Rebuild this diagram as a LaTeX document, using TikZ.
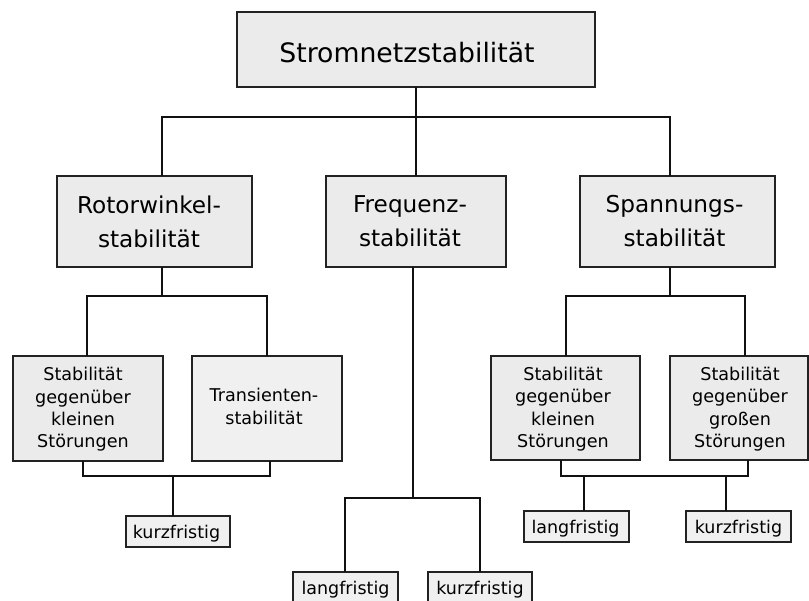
\documentclass[tikz,border=0pt]{standalone}
\usepackage{fontspec}
\setmainfont{DejaVu Sans}
\definecolor{boxfill}{HTML}{EBEBEB}
\definecolor{boxfilllight}{HTML}{F0F0F0}
\definecolor{boxline}{HTML}{222222}
\definecolor{wire}{HTML}{111111}
\begin{document}
\begin{tikzpicture}[x=1pt,y=-1pt,
  box/.style={draw=boxline, line width=1.3pt, fill=boxfill, inner sep=0pt, anchor=center},
  caption/.style={inner sep=0pt, align=center, anchor=center},
  fontone/.style={caption, font=\fontsize{26.7}{32}\selectfont, text height=26pt, text depth=0pt},
  fonttwo/.style={caption, font=\fontsize{23.2}{34}\selectfont},
  fontthree/.style={caption, font=\fontsize{17.6}{22.4}\selectfont},
  fontleaf/.style={caption, font=\fontsize{17.5}{21}\selectfont, text depth=0pt},
  leaf/.style={box, fill=boxfilllight, minimum width=105pt, minimum height=31pt},
  wires/.style={draw=wire, line width=2pt, line cap=rect}
]
\clip (0,0) rectangle (809,601);
\useasboundingbox (0,0) rectangle (809,601);

% main box
\node[box, minimum width=358pt, minimum height=75pt] (top) at (416,49.5) {};
\node[fontone, xshift=-9pt] (topT) at (top) {Stromnetzstabilität};

% second level
\node[box, minimum width=195pt, minimum height=91pt] (rot) at (154.5,221.5) {};
\node[box, minimum width=180pt, minimum height=91pt] (freq) at (416,221.5) {};
\node[box, minimum width=195pt, minimum height=91pt] (span) at (677.5,221.5) {};
\node[fonttwo, xshift=-5.5pt] (rotT) at (rot) {Rotorwinkel-\\stabilität};
\node[fonttwo, xshift=-6pt] (freqT) at (freq) {Frequenz-\\stabilität};
\node[fonttwo, xshift=-3pt] (spanT) at (span) {Spannungs-\\stabilität};

% third level
\node[box, minimum width=150pt, minimum height=105pt] (rk) at (88,408.5) {};
\node[box, fill=boxfilllight, minimum width=150pt, minimum height=105pt] (trans) at (267,408.5) {};
\node[box, minimum width=149pt, minimum height=104pt] (sk) at (565.5,408) {};
\node[box, minimum width=138pt, minimum height=104pt] (sg) at (739,408) {};
\node[fontthree, xshift=-5pt, yshift=-1pt] (rkT) at (rk) {Stabilität\\gegenüber\\kleinen\\Störungen};
\node[fontthree, xshift=-3pt, yshift=2pt] (transT) at (trans) {Transienten-\\stabilität};
\node[fontthree, xshift=-2.5pt, yshift=-1pt] (skT) at (sk) {Stabilität\\gegenüber\\kleinen\\Störungen};
\node[fontthree, xshift=1pt, yshift=-1pt] (sgT) at (sg) {Stabilität\\gegenüber\\großen\\Störungen};

% time-scale leaves
\node[leaf, minimum width=104pt] (k1) at (178,531.5) {};
\node[leaf] (l2) at (576.5,526.5) {};
\node[leaf] (k2) at (738.5,526.5) {};
\node[leaf] (l3) at (345.5,587.5) {};
\node[leaf, minimum width=104pt] (k3) at (480,587.5) {};
\node[fontleaf, xshift=-1.5pt] (k1T) at (k1) {kurzfristig};
\node[fontleaf, xshift=-1pt] (l2T) at (l2) {langfristig};
\node[fontleaf] (k2T) at (k2) {kurzfristig};
\node[fontleaf] (l3T) at (l3) {langfristig};
\node[fontleaf] (k3T) at (k3) {kurzfristig};

% junction points
\coordinate (busTop) at (416,117);
\coordinate (busRot) at (162,296);
\coordinate (busSpan) at (670,296);
\coordinate (joinRot) at (173,476);
\coordinate (busFreq) at (413,498);
\coordinate (joinSpan) at (584,476);

% main box to second level
\draw[wires] (top.south) -- (busTop);
\draw[wires] ([xshift=7.5pt]rot.north) |- ([xshift=-7.5pt]span.north |- busTop) -- ([xshift=-7.5pt]span.north);
\draw[wires] (busTop) -- (freq.north);

% rotor angle branch
\draw[wires] ([xshift=7.5pt]rot.south) -- (busRot);
\draw[wires] ([xshift=-1pt]rk.north) |- (trans.north |- busRot) -- (trans.north);
\draw[wires] ([xshift=-5pt]rk.south) |- ([xshift=3pt]trans.south |- joinRot) -- ([xshift=3pt]trans.south);
\draw[wires] (joinRot) -- ([xshift=-5pt]k1.north);

% frequency branch
\draw[wires] ([xshift=-3pt]freq.south) -- (busFreq);
\draw[wires] ([xshift=-0.5pt]l3.north) |- (k3.north |- busFreq) -- (k3.north);

% voltage branch
\draw[wires] ([xshift=-7.5pt]span.south) -- (busSpan);
\draw[wires] ([xshift=0.5pt]sk.north) |- ([xshift=6pt]sg.north |- busSpan) -- ([xshift=6pt]sg.north);
\draw[wires] ([xshift=-4.5pt]sk.south) |- ([xshift=9pt]sg.south |- joinSpan) -- ([xshift=9pt]sg.south);
\draw[wires] (joinSpan) -- ([xshift=7.5pt]l2.north);
\draw[wires] ([xshift=-12.5pt]k2.north |- joinSpan) -- ([xshift=-12.5pt]k2.north);
\end{tikzpicture}
\end{document}
